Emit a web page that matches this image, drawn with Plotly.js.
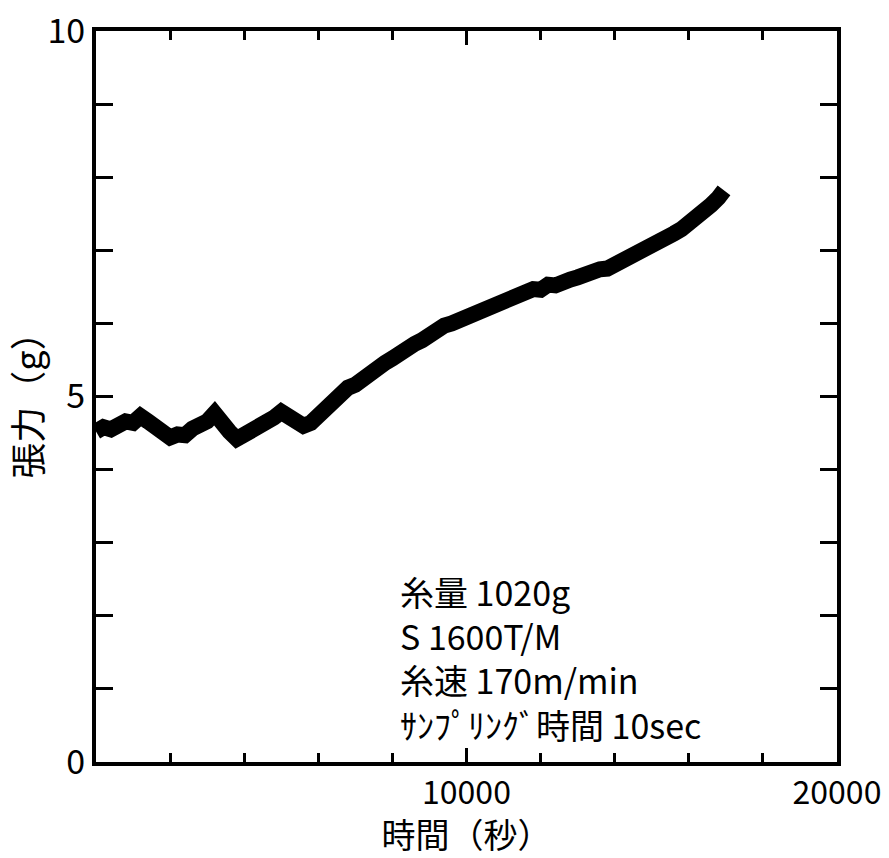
<!DOCTYPE html>
<html>
<head>
<meta charset="utf-8">
<script src="https://cdn.plot.ly/plotly-3.0.1.min.js"></script>
<style>html,body{margin:0;padding:0;background:#fff;}#chart{width:889px;height:858px;}</style>
</head>
<body>
<div id="chart"></div>
<script>
// Time (s) and tension (g) (centre of the band)
const timeSec = [0, 200, 400, 600, 800, 1000, 1200, 1400, 1600, 1800, 2000, 2200, 2400, 2600, 2800, 3000, 3200, 3400, 3600, 3800, 4000, 4200, 4400, 4600, 4800, 5000, 5200, 5400, 5600, 5800, 6000, 6200, 6400, 6600, 6800, 7000, 7200, 7400, 7600, 7800, 8000, 8200, 8400, 8600, 8800, 9000, 9200, 9400, 9600, 9800, 10000, 10200, 10400, 10600, 10800, 11000, 11200, 11400, 11600, 11800, 12000, 12200, 12400, 12600, 12800, 13000, 13200, 13400, 13600, 13800, 14000, 14200, 14400, 14600, 14800, 15000, 15200, 15400, 15600, 15800, 16000, 16200, 16400, 16600, 16800, 16950];
const tension = [4.52, 4.58, 4.55, 4.63, 4.66, 4.64, 4.73, 4.66, 4.58, 4.52, 4.44, 4.48, 4.47, 4.56, 4.60, 4.66, 4.77, 4.62, 4.52, 4.42, 4.47, 4.50, 4.58, 4.62, 4.71, 4.79, 4.74, 4.66, 4.60, 4.64, 4.74, 4.82, 4.95, 5.02, 5.12, 5.16, 5.25, 5.30, 5.41, 5.46, 5.52, 5.60, 5.63, 5.72, 5.77, 5.85, 5.88, 5.97, 6.00, 6.04, 6.12, 6.13, 6.20, 6.22, 6.27, 6.28, 6.35, 6.37, 6.42, 6.47, 6.46, 6.53, 6.52, 6.58, 6.60, 6.63, 6.68, 6.69, 6.74, 6.75, 6.80, 6.83, 6.89, 6.92, 7.00, 7.03, 7.11, 7.15, 7.23, 7.29, 7.36, 7.44, 7.52, 7.62, 7.72, 7.82];

const yTickVals = [0, 1, 2, 3, 4, 5, 6, 7, 8, 9, 10];
const yTickText = ['0', '', '', '', '', '5', '', '', '', '', '10'];
const xTickVals = [0, 10000, 20000];
const xTickText = ['', '10000', '20000'];

const xTitle = '時間（秒）';
const yTitle = '張力（g）';
const noteLines = ['糸量 1020g', 'S 1600T/M', '糸速 170m/min', 'ｻﾝﾌﾟﾘﾝｸﾞ時間 10sec'];
const noteX = 8150;
const noteY = 1.42;

const FONT = 'Noto Sans CJK JP, DejaVu Sans, sans-serif';

const trace = {
  x: timeSec, y: tension, type: 'scatter', mode: 'lines',
  line: {color: '#000', width: 16}, hoverinfo: 'skip', showlegend: false
};

const layout = {
  width: 889, height: 858,
  margin: {l: 96, r: 52, t: 31, b: 96},
  paper_bgcolor: '#fff', plot_bgcolor: '#fff',
  showlegend: false,
  font: {family: FONT, color: '#000'},
  xaxis: {
    range: [0, 20000], tickvals: xTickVals, ticktext: xTickText,
    ticks: 'inside', ticklen: 14, tickwidth: 3, tickcolor: '#000',
    minor: {dtick: 2000, tick0: 0, ticks: 'inside', ticklen: 9, tickwidth: 3, tickcolor: '#000', showgrid: false},
    showline: true, linewidth: 4, linecolor: '#000', mirror: 'ticks',
    showgrid: false, zeroline: false, automargin: false,
    tickfont: {family: FONT, size: 32, color: '#000'}, ticklabelstandoff: 0,
    ticklabeloverflow: 'allow',
    title: {text: xTitle, font: {family: FONT, size: 34, color: '#000'}, standoff: 8}
  },
  yaxis: {
    range: [0, 10], tickvals: yTickVals, ticktext: yTickText,
    ticks: 'inside', ticklen: 17, tickwidth: 3, tickcolor: '#000',
    showline: true, linewidth: 4, linecolor: '#000', mirror: 'ticks',
    showgrid: false, zeroline: false, automargin: false,
    tickfont: {family: FONT, size: 34, color: '#000'}, ticklabelstandoff: 0,
    ticklabeloverflow: 'allow',
    title: {text: yTitle, font: {family: FONT, size: 36, color: '#000'}, standoff: 4}
  },
  annotations: [{
    x: noteX, y: noteY, xref: 'x', yref: 'y', text: noteLines.join('<br>'),
    showarrow: false, xanchor: 'left', yanchor: 'middle', align: 'left',
    font: {family: FONT, size: 34, color: '#000'}
  }]
};

Plotly.newPlot('chart', [trace], layout, {staticPlot: true, displayModeBar: false});
</script>
</body>
</html>
